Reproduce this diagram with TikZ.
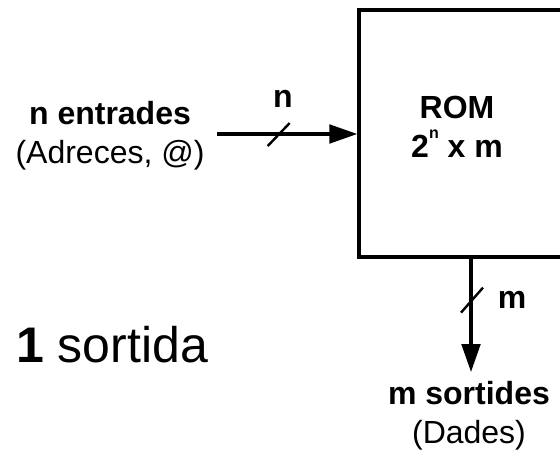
\documentclass[tikz,border=0pt]{standalone}
\usepackage{fontspec}
\setmainfont{Liberation Sans}
\usetikzlibrary{arrows.meta}

\tikzset{
	bus/.style={line width=2.4pt, -{Triangle[length=21pt,width=14pt]}},
	txt/.style={anchor=base, inner sep=0pt, align=center, font=\fontsize{24}{29}\selectfont},
}

\begin{document}
	\begin{tikzpicture}[x=0.75pt, y=-0.75pt]
		\useasboundingbox (0,0) rectangle (560,457);
		\clip (0,0) rectangle (560,457);
		
		% memoria
		\node[draw, line width=2.6pt, minimum width=154.5pt, minimum height=185.25pt] (rom) at (462,133.5) {};
		\node[txt, font=\fontsize{24}{29}\selectfont\bfseries] (romtxt) at (457,157) {ROM\\2\raisebox{1.1ex}{\fontsize{12}{12}\selectfont n} x m};
		
		% entrades
		\node[txt] (entr) at (110,163) {\textbf{n entrades}\\(Adreces, @)};
		\coordinate (din) at (217,134);
		\draw[bus] (din) -- (din -| rom.west) coordinate[pos=0.44] (nbus);
		\draw[line width=1.8pt] ([shift={(-11,12)}]nbus) -- ([shift={(11,-11)}]nbus);
		\node[txt, font=\fontsize{24}{29}\selectfont\bfseries] (nlab) at (283,107) {n};
		
		% sortides
		\coordinate (dout) at (471,372);
		\draw[bus] (dout |- rom.south) -- (dout) coordinate[pos=0.37] (mbus);
		\draw[line width=1.8pt] ([shift={(-10,12)}]mbus) -- ([shift={(12,-13)}]mbus);
		\node[txt, font=\fontsize{24}{29}\selectfont\bfseries] (mlab) at (512,308) {m};
		\node[txt] (sort) at (469,443) {\textbf{m sortides}\\(Dades)};
		
		\node[txt, font=\fontsize{37.5}{44}\selectfont] (una) at (112,362) {\textbf{1} sortida};
	\end{tikzpicture}
\end{document}
